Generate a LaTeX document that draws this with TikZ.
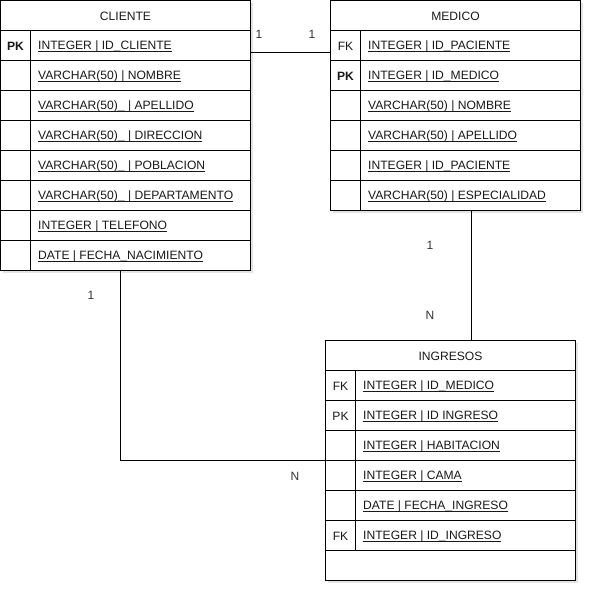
\documentclass[tikz,border=0pt]{standalone}
\usepackage{fontspec}
\setmainfont{Liberation Sans}
\usetikzlibrary{calc,shadows}
\newcommand\myul[1]{\setbox0\hbox{#1}\rlap{\rule[-2.4pt]{\wd0}{0.9pt}}\box0}
\tikzset{
  tbl/.style={draw, line width=1pt, fill=white, anchor=north west, inner sep=0pt, outer sep=0pt,
    drop shadow={shadow xshift=2.5pt, shadow yshift=-2.5pt, opacity=0.22}},
  ln/.style={line width=1pt},
  fld/.style={anchor=west, inner sep=0pt, font=\fontsize{12.1}{14}\selectfont, text=black!90},
  keyl/.style={anchor=center, inner sep=0pt, font=\fontsize{12.1}{14}\selectfont, text=black!90},
  keyb/.style={keyl, font=\fontsize{12.1}{14}\selectfont\bfseries},
  hdr/.style={anchor=center, inner sep=0pt, font=\fontsize{12.1}{14}\selectfont, text=black!90},
  card/.style={anchor=center, inner sep=0pt, font=\fontsize{12}{14}\selectfont, text=black!80}
}
\begin{document}
\begin{tikzpicture}[x=1pt,y=-1pt]
\useasboundingbox (0,0) rectangle (592,592);
% ---------- CLIENTE ----------
\node[tbl, minimum width=250pt, minimum height=270pt] (cliente) at (0.5,0.5) {};
\draw[ln] (0.5,30.5) -- (250.5,30.5);
\foreach \k in {1,...,7} \draw[ln] (0.5,30.5+30*\k) -- (250.5,30.5+30*\k);
\draw[ln] (30.5,30.5) -- (30.5,270.5);
\node[hdr] (clienteh) at (125.5,16) {CLIENTE};
\node[keyb] (ck1) at (15.5,46) {PK};
\node[fld] (cf1) at (38,46) {\myul{INTEGER | ID\_CLIENTE}};
\node[fld] (cf2) at (38,76) {\myul{VARCHAR(50) | NOMBRE}};
\node[fld] (cf3) at (38,106) {\myul{VARCHAR(50)\_ | APELLIDO}};
\node[fld] (cf4) at (38,136) {\myul{VARCHAR(50)\_ | DIRECCION}};
\node[fld] (cf5) at (38,166) {\myul{VARCHAR(50)\_ | POBLACION}};
\node[fld] (cf6) at (38,196) {\myul{VARCHAR(50)\_ | DEPARTAMENTO}};
\node[fld] (cf7) at (38,226) {\myul{INTEGER | TELEFONO}};
\node[fld] (cf8) at (38,256) {\myul{DATE | FECHA\_NACIMIENTO}};
% ---------- MEDICO ----------
\node[tbl, minimum width=250pt, minimum height=210pt] (medico) at (330.5,0.5) {};
\foreach \k in {0,...,5} \draw[ln] (330.5,30.5+30*\k) -- (580.5,30.5+30*\k);
\draw[ln] (360.5,30.5) -- (360.5,210.5);
\node[hdr] (medicoh) at (455.5,16) {MEDICO};
\node[keyl] (mk1) at (345.5,46) {FK};
\node[keyb] (mk2) at (345.5,76) {PK};
\node[fld] (mf1) at (368,46) {\myul{INTEGER | ID\_PACIENTE}};
\node[fld] (mf2) at (368,76) {\myul{INTEGER | ID\_MEDICO}};
\node[fld] (mf3) at (368,106) {\myul{VARCHAR(50) | NOMBRE}};
\node[fld] (mf4) at (368,136) {\myul{VARCHAR(50) | APELLIDO}};
\node[fld] (mf5) at (368,166) {\myul{INTEGER | ID\_PACIENTE}};
\node[fld] (mf6) at (368,196) {\myul{VARCHAR(50) | ESPECIALIDAD}};
% ---------- INGRESOS ----------
\node[tbl, minimum width=250pt, minimum height=240pt] (ingresos) at (325.5,340.5) {};
\foreach \k in {0,...,6} \draw[ln] (325.5,370.5+30*\k) -- (575.5,370.5+30*\k);
\draw[ln] (355.5,370.5) -- (355.5,550.5);
\node[hdr] (ingresosh) at (450.5,356) {INGRESOS};
\node[keyl] (ik1) at (340.5,386) {FK};
\node[keyl] (ik2) at (340.5,416) {PK};
\node[keyl] (ik6) at (340.5,536) {FK};
\node[fld] (if1) at (363,386) {\myul{INTEGER | ID\_MEDICO}};
\node[fld] (if2) at (363,416) {\myul{INTEGER | ID INGRESO}};
\node[fld] (if3) at (363,446) {\myul{INTEGER | HABITACION}};
\node[fld] (if4) at (363,476) {\myul{INTEGER | CAMA}};
\node[fld] (if5) at (363,506) {\myul{DATE | FECHA\_INGRESO}};
\node[fld] (if6) at (363,536) {\myul{INTEGER | ID\_INGRESO}};
% ---------- connectors ----------
\draw[ln] ($(cliente.north east)+(0,52)$) -- ($(medico.north west)+(0,52)$);
\draw[ln] ($(medico.south west)+(140.5,0)$) -- ($(ingresos.north west)+(145.5,0)$);
\draw[ln] ($(cliente.south west)+(120,0)$) |- ($(ingresos.north west)+(0,120)$);
% ---------- cardinalities ----------
\node[card] (l1) at (259,34) {1};
\node[card] (l2) at (312,34) {1};
\node[card] (l3) at (430,245) {1};
\node[card] (l4) at (430,315) {N};
\node[card] (l5) at (91,295) {1};
\node[card] (l6) at (295,476) {N};
\end{tikzpicture}
\end{document}
